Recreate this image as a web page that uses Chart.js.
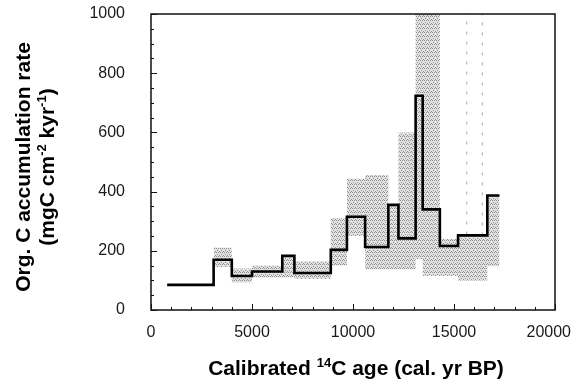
<!DOCTYPE html>
<html lang="en">
<head>
  <meta charset="UTF-8">
  <title>Org. C accumulation rate</title>
  <style>
    html, body { margin: 0; padding: 0; background: #fff; }
  </style>
</head>
<body>
<canvas id="myChart" width="575" height="381"></canvas>

<script src="https://cdn.jsdelivr.net/npm/chart.js"></script>
<script>
  // step boundaries (cal. yr BP) and accumulation rate for each step
  const edges = [800, 3100, 4000, 5000, 6500, 7100, 8900, 9700, 10600, 11750, 12250, 13100, 13450, 14300, 15200, 16650, 17250];
  const rate = [85, 170, 115, 130, 183, 125, 203, 315, 213, 355, 242, 724, 340, 216, 252, 387];
  // shaded uncertainty range for each step
  const rangeLow = [null, 145, 93, 110, 110, 105, 150, 250, 138, 138, 138, 172, 115, 115, 100, 148];
  const rangeHigh = [null, 210, 140, 150, 180, 165, 310, 443, 455, 355, 600, 1000, 1000, 240, 255, 387];
  // faint dashed verticals in the late part
  const dashAges = [15630, 16400];
  const dashFrom = [255, 252];
  const dashTo = [1000, 1000];

  const xTicks = [0, 5000, 10000, 15000, 20000];
  const yTicks = [0, 200, 400, 600, 800, 1000];

  function steps(vals) {
    var pts = [];
    for (var i = 0; i < vals.length; i++) {
      if (vals[i] == null) continue;
      pts.push({x: edges[i], y: vals[i]});
    }
    pts.push({x: edges[edges.length - 1], y: vals[vals.length - 1]});
    return pts;
  }

  // gray speckled texture like the scanned hatching
  function makePattern() {
    var c = document.createElement('canvas');
    c.width = 4; c.height = 4;
    var g = c.getContext('2d');
    g.fillStyle = 'rgba(222,222,222,0.9)';
    g.fillRect(0, 0, 4, 4);
    g.fillStyle = 'rgba(130,130,130,0.85)';
    g.fillRect(0, 0, 1, 1);
    g.fillRect(2, 0, 1, 1);
    g.fillRect(1, 2, 1, 1);
    g.fillRect(3, 3, 1, 1);
    return g.createPattern(c, 'repeat');
  }

  var datasets = [
    {
      label: 'rate',
      data: steps(rate),
      stepped: true,
      borderColor: '#000',
      borderWidth: 2.6,
      pointRadius: 0,
      fill: false,
      order: 0
    },
    {
      label: 'low',
      data: steps(rangeLow),
      stepped: true,
      borderWidth: 0,
      borderColor: 'rgba(0,0,0,0)',
      pointRadius: 0,
      fill: false,
      order: 3
    },
    {
      label: 'high',
      data: steps(rangeHigh),
      stepped: true,
      borderWidth: 0,
      borderColor: 'rgba(0,0,0,0)',
      backgroundColor: makePattern(),
      pointRadius: 0,
      fill: 1,
      order: 3
    }
  ];
  for (var d = 0; d < dashAges.length; d++) {
    datasets.push({
      label: 'dash' + d,
      data: [{x: dashAges[d], y: dashFrom[d]}, {x: dashAges[d], y: dashTo[d]}],
      borderColor: '#a8a8a8',
      borderWidth: 1,
      borderDash: [3, 7],
      pointRadius: 0,
      fill: false,
      order: 2
    });
  }

  const tickFont = { family: '"Liberation Sans", Arial, sans-serif', size: 16 };

  // frame, inward ticks, x labels and axis titles with superscripts
  const decor = {
    id: 'decor',
    afterDatasetsDraw(chart) {
      const ctx = chart.ctx;
      const a = chart.chartArea;
      const xs = chart.scales.x, ys = chart.scales.y;
      ctx.save();
      ctx.strokeStyle = '#111';
      ctx.lineWidth = 1.5;
      ctx.strokeRect(a.left, a.top, a.right - a.left, a.bottom - a.top);
      ctx.lineWidth = 1;
      for (var v = 0; v <= 1000; v += 50) {
        var py = Math.round(ys.getPixelForValue(v)) + 0.5;
        var len = (v % 200 === 0) ? 6 : 3;
        ctx.beginPath(); ctx.moveTo(a.left, py); ctx.lineTo(a.left + len, py); ctx.stroke();
      }
      for (var t = 0; t <= 20000; t += 1000) {
        var px = Math.round(xs.getPixelForValue(t)) + 0.5;
        var l2 = (t % 5000 === 0) ? 6 : 3;
        ctx.beginPath(); ctx.moveTo(px, a.bottom); ctx.lineTo(px, a.bottom - l2); ctx.stroke();
      }
      ctx.restore();
    },
    afterDraw(chart) {
      const ctx = chart.ctx;
      const a = chart.chartArea;
      const xs = chart.scales.x;
      const big = 'bold 21px "Liberation Sans", Arial, sans-serif';
      const small = 'bold 13px "Liberation Sans", Arial, sans-serif';

      function runs(parts, cx, base) {
        var w = 0;
        parts.forEach(function (p) { ctx.font = p[1] ? small : big; w += ctx.measureText(p[0]).width; });
        var x = cx - w / 2;
        parts.forEach(function (p) {
          ctx.font = p[1] ? small : big;
          ctx.fillText(p[0], x, p[1] ? base - 8 : base);
          x += ctx.measureText(p[0]).width;
        });
      }

      ctx.save();
      // x tick labels, kept inside the canvas at the right end
      ctx.font = tickFont.size + 'px ' + tickFont.family;
      ctx.fillStyle = '#1a1a1a';
      ctx.textBaseline = 'middle';
      ctx.textAlign = 'center';
      xTicks.forEach(function (v) {
        var s = String(v);
        var w = ctx.measureText(s).width;
        var cx = Math.min(xs.getPixelForValue(v), chart.width - 4 - w / 2);
        ctx.fillText(s, cx, a.bottom + 23);
      });

      ctx.fillStyle = '#000';
      ctx.textBaseline = 'alphabetic';
      ctx.textAlign = 'left';
      runs([['Calibrated ', 0], ['14', 1], ['C age (cal. yr BP)', 0]], 356, 375);

      ctx.translate(0, 167);
      ctx.rotate(-Math.PI / 2);
      runs([['Org. C accumulation rate', 0]], 0, 30);
      runs([['(mgC cm', 0], ['-2', 1], [' kyr', 0], ['-1', 1], [')', 0]], 0, 54);
      ctx.restore();
    }
  };

  const ctx = document.getElementById('myChart');
  const chart = new Chart(ctx, {
    type: 'line',
    data: { datasets: datasets },
    plugins: [decor],
    options: {
      responsive: false,
      animation: false,
      maintainAspectRatio: false,
      devicePixelRatio: 1,
      layout: { padding: { top: 14, right: 20, bottom: 41, left: 0 } },
      plugins: {
        legend: { display: false },
        tooltip: { enabled: false }
      },
      scales: {
        x: {
          type: 'linear',
          min: 0,
          max: 20000,
          afterBuildTicks: function (s) { s.ticks = xTicks.map(function (v) { return {value: v}; }); },
          afterFit: function (s) {
            s.height = 30;
            s.paddingLeft = 0; s.paddingRight = 0;
          },
          grid: { display: false, drawTicks: false },
          border: { display: false },
          ticks: { display: false }
        },
        y: {
          min: 0,
          max: 1000,
          afterBuildTicks: function (s) { s.ticks = yTicks.map(function (v) { return {value: v}; }); },
          afterFit: function (s) {
            s.width = 151;
            s.paddingTop = 0; s.paddingBottom = 0;
          },
          grid: { display: false, drawTicks: false },
          border: { display: false },
          ticks: {
            padding: 26,
            crossAlign: 'near',
            color: '#1a1a1a',
            font: tickFont,
            callback: function (v) { return v; }
          }
        }
      }
    }
  });
</script>
</body>
</html>
